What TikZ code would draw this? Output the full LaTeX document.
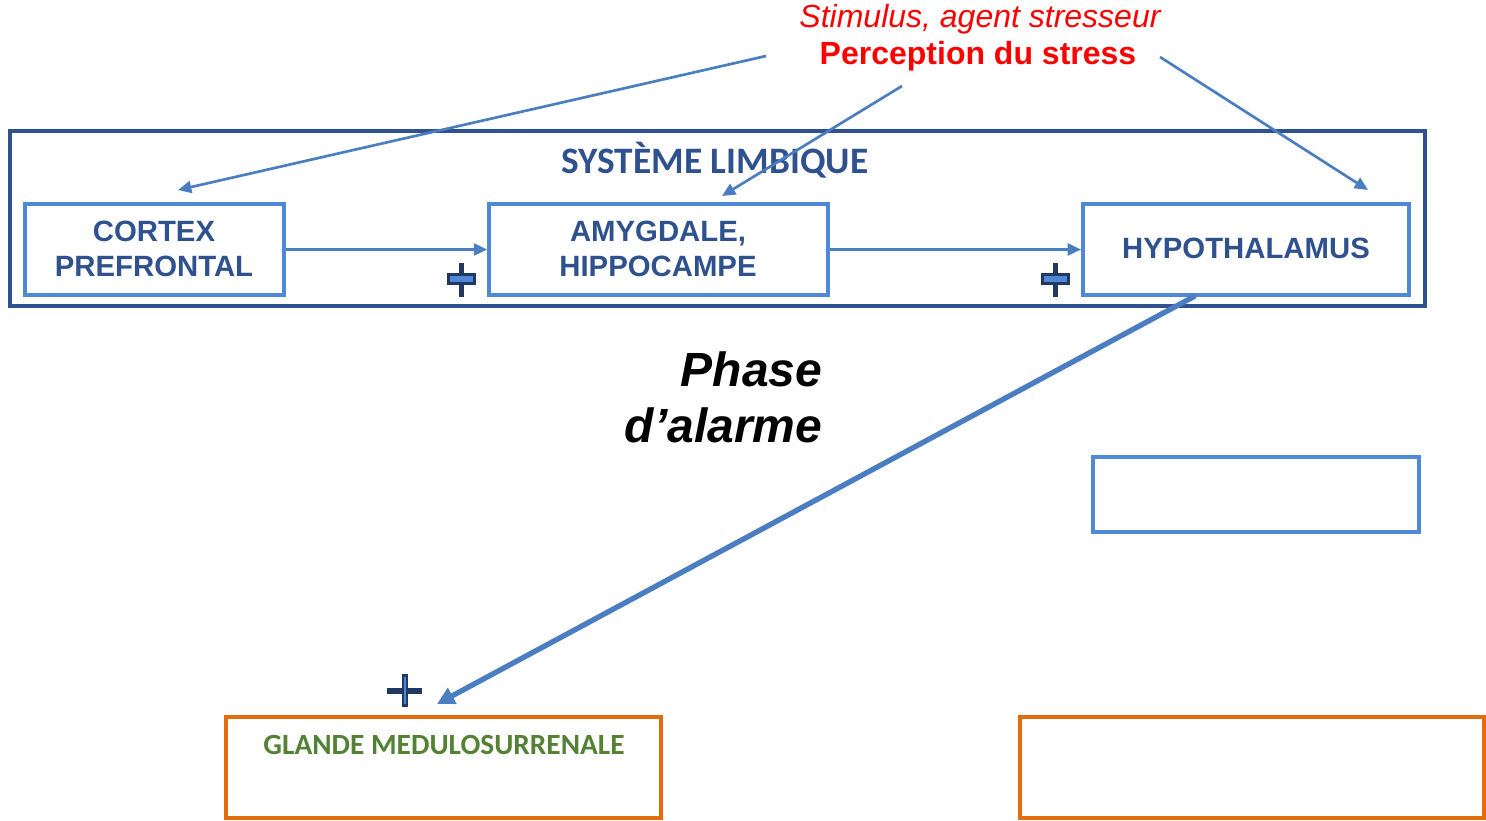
\documentclass[tikz,border=0pt]{standalone}
\usepackage{fontspec}
\setmainfont{Liberation Sans}
\newfontfamily\calib{Carlito}
\usetikzlibrary{arrows.meta}
\definecolor{navy}{HTML}{2F528F}
\definecolor{boxblue}{HTML}{4F88D6}
\definecolor{arrblue}{HTML}{4A7EC0}
\definecolor{orng}{HTML}{E46C0A}
\definecolor{grn}{HTML}{548235}
\definecolor{txtblue}{HTML}{2F528F}
\definecolor{plusdark}{HTML}{203864}
\tikzset{
  px/.style={x=0.75pt,y=-0.75pt},
  bluebox/.style={draw=boxblue,line width=3pt,inner sep=0pt},
  orangebox/.style={draw=orng,line width=3pt,inner sep=0pt},
  boxtext/.style={font=\fontsize{22}{26}\selectfont\bfseries,text=txtblue,align=center},
  arr/.style={draw=arrblue,line width=2pt,-{Triangle[length=10pt,width=9pt]}},
  arrthick/.style={draw=arrblue,line width=4pt,-{Triangle[length=13pt,width=13pt]}},
}
\newcommand{\plusmark}[2]{%
  \fill[plusdark] (#1-2.4,#2-16) rectangle (#1+2.4,#2+18);
  \fill[plusdark] (#1-14.5,#2-6) rectangle (#1+14.5,#2+6);
  \fill[boxblue] (#1-11.5,#2-3) rectangle (#1+11.5,#2+3);
}
\begin{document}
\begin{tikzpicture}[px]
\useasboundingbox (0,0) rectangle (1486,821);
% outer limbic frame
\draw[navy,line width=3pt] (10,131) rectangle (1425,306);
\node[font=\calib\fontsize{28}{32}\selectfont\bfseries,text=txtblue] (sl) at (715,160) {SYSTÈME LIMBIQUE};
% boxes
\node[bluebox,minimum width=194pt,minimum height=68pt] (cortex) at (154.5,249.5) {};
\node[boxtext] (cortext) at (154,249) {CORTEX\\PREFRONTAL};
\node[bluebox,minimum width=254pt,minimum height=68pt] (amyg) at (658.5,249.5) {};
\node[boxtext] (amytext) at (658,249) {AMYGDALE,\\HIPPOCAMPE};
\node[bluebox,minimum width=244.5pt,minimum height=68pt] (hypo) at (1246,249.5) {};
\node[boxtext] (hypotext) at (1246,248) {HYPOTHALAMUS};
\node[bluebox,minimum width=244.5pt,minimum height=56pt] (empty1) at (1256,494.5) {};
\node[orangebox,minimum width=326pt,minimum height=75.5pt] (glande) at (443.5,767.5) {};
\node[font=\calib\fontsize{22}{25}\selectfont\bfseries,text=grn] (gtext) at (444,745) {GLANDE MEDULOSURRENALE};
\node[orangebox,minimum width=348pt,minimum height=75.5pt] (empty2) at (1252,767.5) {};
% top texts
\node[font=\fontsize{24}{27}\selectfont\itshape,text=red] (stim) at (980,19) {Stimulus, agent stresseur};
\node[font=\fontsize{24}{27}\selectfont\bfseries,text=red] (perc) at (978,56) {Perception du stress};
% phase
\node[font=\fontsize{36}{42}\selectfont\bfseries\itshape,align=right,anchor=east] (phase) at (827,397) {Phase\\d’alarme};
% coordinates
\coordinate (s1) at (766,56);
\coordinate (t1) at (178,190);
\coordinate (s2) at (902,86);
\coordinate (t2) at (722,196);
\coordinate (s3) at (1160,57);
\coordinate (t3) at (1368,190);
\coordinate (s4) at (1195,296);
\coordinate (t4) at (437,704);
\draw[arr] (s1) -- (t1);
\draw[arr] (s2) -- (t2);
\draw[arr] (s3) -- (t3);
\draw[arr] (cortex.east) -- (amyg.west);
\draw[arr] (amyg.east) -- (hypo.west);
\draw[arrthick] (s4) -- (t4);
% plus signs
\plusmark{461.5}{279}
\plusmark{1055.5}{279}
\fill[plusdark] (402,674) rectangle (407.5,707);
\fill[plusdark] (387,687.5) rectangle (422,693.5);
\fill[boxblue] (403.7,677) rectangle (405.8,704);
\end{tikzpicture}
\end{document}
